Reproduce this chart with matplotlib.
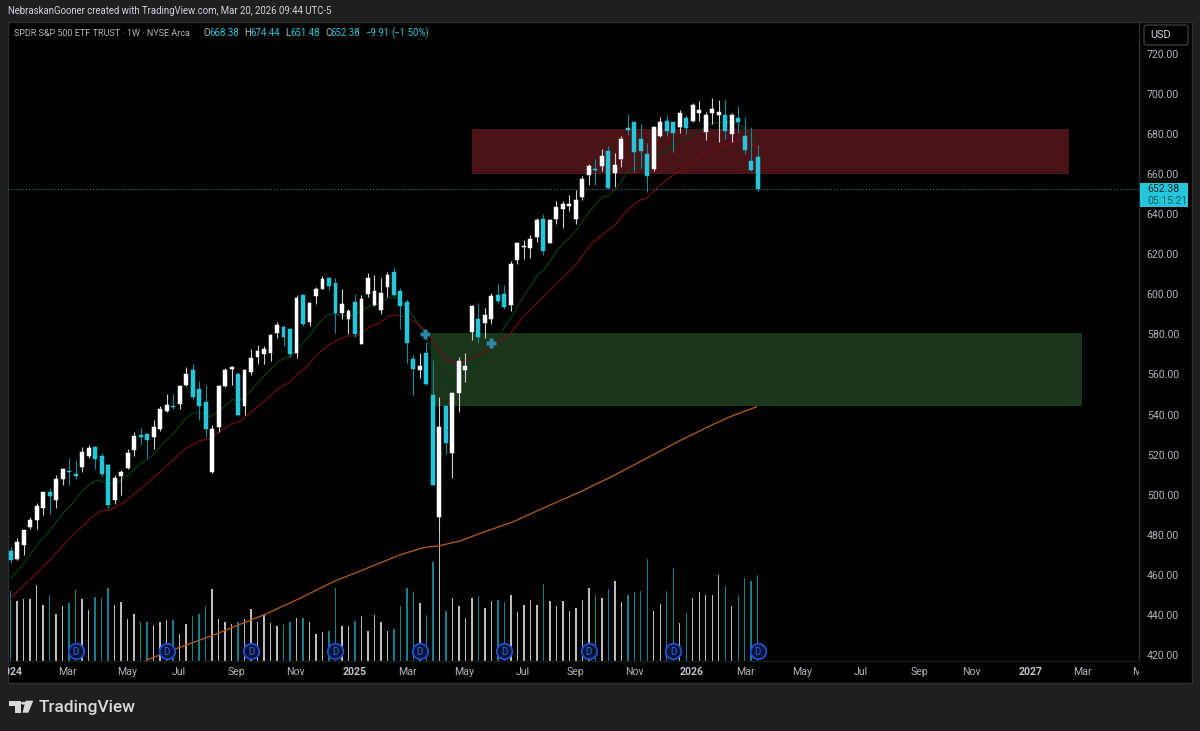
import matplotlib
matplotlib.use("Agg")
import matplotlib.pyplot as plt
from matplotlib.patches import Rectangle, FancyBboxPatch, Polygon, Circle
from matplotlib.transforms import Bbox, TransformedBbox, IdentityTransform, blended_transform_factory

plt.rcParams['font.family'] = ['Roboto', 'DejaVu Sans']

# ---------- weekly OHLC ----------
opens = [472.1,468.0,475.0,483.8,487.4,493.4,501.2,497.4,508.0,512.0,510.4,513.7,519.5,523.8,519.2,515.0,497.2,509.4,513.2,522.3,
         529.7,530.3,528.7,532.6,542.0,544.4,545.3,554.9,562.1,552.9,546.1,511.2,534.0,554.3,562.9,560.4,544.3,561.2,568.9,570.2,
         570.9,580.9,583.9,582.7,570.9,599.8,586.0,599.3,602.8,608.0,605.8,590.5,587.7,596.3,575.4,600.3,594.5,592.3,603.6,611.0,
         601.8,596.3,567.7,562.4,570.7,549.8,488.9,544.3,520.8,550.9,562.2,581.2,587.8,585.7,587.5,599.8,600.2,594.8,617.1,623.4,
         623.3,628.6,637.6,625.6,637.6,642.5,643.9,637.4,648.5,659.3,662.5,664.0,671.5,660.5,667.3,682.8,685.8,677.5,670.0,662.5,
         678.8,686.6,685.8,683.6,687.9,686.3,690.3,681.1,690.3,689.4,689.4,680.0,687.9,678.8,666.5,668.38]
highs = [473.8,478.3,482.4,488.8,496.1,501.6,503.6,509.9,513.2,518.2,517.4,523.8,524.7,524.3,520.7,515.2,509.9,512.4,522.7,531.3,
         533.1,530.6,537.1,544.3,550.1,550.3,554.8,563.7,565.2,556.6,554.9,534.6,554.9,563.1,564.1,560.6,562.7,572.9,574.7,574.2,
         580.4,586.0,584.5,583.2,599.5,600.1,596.2,603.5,609.0,608.5,608.0,602.6,592.5,600.0,599.5,610.6,609.8,608.1,611.0,613.4,
         603.0,597.5,569.7,570.7,576.2,567.2,548.6,544.3,550.9,568.6,570.5,594.5,595.5,593.0,600.5,605.0,604.5,616.4,626.1,626.9,
         629.4,637.9,639.9,637.6,646.4,646.5,649.5,652.2,659.2,665.2,667.5,672.6,674.0,670.3,678.8,689.9,685.8,685.1,675.5,683.9,
         688.6,689.4,685.9,691.9,689.4,695.3,696.4,691.1,697.7,697.1,697.4,690.3,693.9,688.6,683.4,674.44]
lows = [466.1,467.5,469.8,482.8,483.1,490.1,490.4,493.6,504.9,504.9,508.0,511.2,518.5,512.7,509.0,493.2,495.2,499.7,512.9,519.5,
        524.8,518.5,522.8,532.0,541.5,542.8,542.6,554.3,548.0,537.3,528.8,510.7,531.2,553.9,554.9,539.5,539.8,559.7,565.4,565.4,
        566.6,578.4,574.4,568.7,568.1,584.0,584.0,595.2,602.5,602.3,580.7,587.7,580.4,578.5,575.4,598.8,594.2,590.3,598.8,599.3,
        582.5,565.7,549.9,558.3,554.9,504.9,481.8,520.3,508.4,541.5,556.3,577.2,575.7,578.2,585.2,595.5,592.7,591.8,615.1,617.8,
        618.3,626.1,619.4,625.4,635.1,633.1,641.7,635.1,647.2,654.5,654.5,661.5,652.7,653.5,663.5,679.5,661.2,663.2,651.2,661.5,
        678.5,679.1,671.2,680.6,680.0,686.1,686.3,676.8,684.9,676.0,677.5,675.8,680.3,670.0,661.5,651.48]
closes = [467.5,476.4,482.4,487.3,494.4,501.2,499.2,507.9,512.7,511.4,509.4,521.2,523.2,517.8,510.4,494.7,508.4,511.4,520.7,529.3,
          529.0,527.2,533.8,542.8,544.6,543.8,554.4,560.1,548.8,544.3,532.8,533.0,554.1,562.1,563.6,539.8,562.1,568.1,571.5,572.7,
          579.7,584.7,578.9,570.4,598.3,585.2,595.5,602.6,607.8,604.0,590.8,595.2,591.8,580.2,597.5,608.0,601.8,600.6,609.8,599.6,
          594.0,575.9,562.6,564.1,555.3,504.9,533.8,526.0,550.6,566.7,564.4,594.2,578.7,589.5,599.2,596.7,593.8,615.1,625.4,624.1,
          627.8,637.2,621.4,637.2,643.5,645.2,645.2,647.2,657.7,663.8,662.0,669.1,653.0,664.3,677.5,681.9,670.8,671.5,658.8,683.4,
          685.9,681.4,680.5,690.4,682.9,694.3,691.9,689.4,692.4,690.8,681.4,689.4,685.9,672.0,661.8,652.38]
volumes = [209,179,186,186,227,167,196,141,165,174,212,186,153,191,188,217,167,177,124,139,
           115,115,107,115,122,122,81,110,133,140,163,215,126,117,110,117,126,155,115,136,
           112,103,107,115,127,127,117,81,86,89,218,103,105,119,134,89,136,115,89,95,
           165,217,206,172,138,296,392,150,188,163,128,188,194,157,179,182,175,198,146,167,
           181,167,230,179,163,179,150,157,181,217,196,189,214,238,177,196,206,208,306,148,
           170,208,277,113,143,189,206,198,196,258,224,165,196,249,238,258]

# ---------- moving averages (week index, price) ----------
fast_x = [0,1.2,3,4.5,6.1,7.9,9.8,10.9,12.5,13.5,14.5,16.1,18.1,19.9,21.5,23.5,25.1,26.9,28.1,29.2,30.7,32.3,34.1,35.1,
          36.8,38.9,40.9,42,43,44.5,46.1,47.6,48.9,49.9,50.9,52,52.7,54.3,55.3,56.3,57.9,59.2,59.9,61.5,63,63.9,65.1,66.6,67.9,
          69.2,70.2,71.2,72.3,75.6,77.4,79.4,81,82,84.6,86.9,88.9,91,92,93.3,94.9,96.1,97.4,99.5,100.5,102,103.1,104.1,106.2,
          108.2,109.8,111.8,113.3,114.9]
fast_y = [458.4,462.5,470,476.6,482.4,490.4,496.6,501.6,506,507.4,506,505.4,509.9,515.4,518.5,525.7,530.6,538.1,540.6,541,539,542.3,547.6,546.6,
          551.4,558.9,565.6,568.1,568.6,573.9,579.7,586.3,590,590,589.7,589.2,589.7,592.2,594.2,594.7,598,598.5,597.2,591.3,583.9,579.7,568.9,556.4,555.3,
          557.2,561.4,564.7,568.1,581.4,590.5,601.3,609.1,611.8,623.8,631.2,640.4,648.4,649,652.9,660.7,662.8,663.3,668.7,671.1,673.6,676.6,677.8,682,
          685.3,685.8,685.3,682,675.3]
slow_x = [0,4.5,6.6,8.6,10.7,12.7,14,15.3,17.4,20.4,24,26.9,29.2,30.7,32.5,34.1,35.3,36.8,38.9,41.2,42.8,44,45.6,47.1,48.9,50.7,52,53.3,55.3,56.9,58.1,59.4,
          61,63,64.3,65.6,67.1,68.2,69.7,71.2,72.3,74.3,76.9,78.9,81,83.6,87.2,89.2,91,93.1,94.9,96.9,97.9,100,102,104.1,106.2,108.7,110.3,111.8,112.8,113.9,114.9]
slow_y = [448.5,462.5,469.5,476.6,483.3,489.4,492.1,492.4,496.1,504,514.3,523.2,527,528.2,532.3,535.6,536.6,540.6,546.4,553.1,555.9,559.7,563.9,569.7,574.7,577.7,579.2,579.2,583.9,585.8,588.8,589.7,
          588.5,584.7,579.7,573.9,567.7,566.2,566.1,568.6,569.7,574.7,580.5,588.8,595.5,603.8,615.4,624.6,629.6,634.6,642,647,647.9,654.5,659.5,664.5,669,673.6,675,676.6,676.6,675.3,673.6]
long_x = [20.7,25.6,31.2,35.3,38.9,44.5,49.7,54.8,59.9,63.5,66,69.2,72.3,77.4,82.5,87.7,92.8,97.9,103,108.2,110.8,114.9]
long_y = [417.3,423.4,430,435.4,440,448.3,456.7,463.3,470,473.6,474.6,477,480.8,486.6,494.1,501.5,509.5,518.2,527,535.2,539,544]

# ---------- zones and marks ----------
supply_zone = (71.0, 163.0, 660.0, 682.4)
demand_zone = (64.7, 164.9, 544.3, 580.7)
plus_x = [63.8, 73.9]
plus_y = [580.0, 575.5]
dividend_x = [10, 24, 37, 50, 63, 76, 89, 102, 115]
last_price = 652.38
price_ticks = [720,700,680,660,640,620,600,580,560,540,520,500,480,460,440,420]
date_labels = ["2024","Mar","May","Jul","Sep","Nov","2025","Mar","May","Jul","Sep","Nov","2026","Mar","May","Jul","Sep","Nov","2027","Mar","May"]
date_pos = [0,8.8,17.9,25.9,34.8,43.8,53,61,69.8,78.9,87,96,104.9,113.1,121.8,130.8,139.9,147.9,157,165,174.2]

UP = "#ffffff"; DOWN = "#26c6da"; UP_WICK = "#d0d0d0"; DOWN_WICK = "#158a9b"
BG = "#1f1f1f"; TXT = "#b2b5be"; LINE = "#2e2e2e"

W, H = 1200, 731
fig = plt.figure(figsize=(W/100, H/100), dpi=100, facecolor=BG)
def fx(x): return x/W
def fy(y): return 1-y/H
def rect(x0, y0, x1, y1, **kw):
    fig.add_artist(Rectangle((fx(x0), fy(y1)), (x1-x0)/W, (y1-y0)/H, transform=fig.transFigure, **kw))
def ftext(x, y, s, **kw):
    kw.setdefault('va', 'center')
    fig.text(fx(x), fy(y), s, **kw)

rect(8, 22, 1192, 683, fc="#000000", ec=LINE, lw=1, zorder=-5)

pos = [fx(8), fy(660.6), (1139-8)/W, (660.6-22)/H]
ax_v = fig.add_axes(pos, zorder=1)
ax = fig.add_axes(pos, zorder=2, sharex=ax_v)
ax.patch.set_visible(False)
ax_v.set_facecolor("none")
ax_v.axis("off")
ax.set_xlim(-0.416, 173.7)
ax.set_ylim(417.3, 735.8)
ax_v.set_ylim(0, 1916)

for s in ("left", "top"):
    ax.spines[s].set_visible(False)
ax.spines["right"].set_color(LINE); ax.spines["right"].set_linewidth(1)
ax.spines["bottom"].set_color("#1c1c1c"); ax.spines["bottom"].set_linewidth(1)
ax.yaxis.tick_right()
ax.set_yticks(price_ticks)
ax.set_yticklabels([f"{p:.2f}" for p in price_ticks], fontsize=7.6, color=TXT)
ax.tick_params(axis='y', length=0, pad=5.6)
ax.tick_params(axis='x', length=0, labelbottom=False)

# zones
ax.add_patch(Rectangle((supply_zone[0], supply_zone[2]), supply_zone[1]-supply_zone[0], supply_zone[3]-supply_zone[2],
                       fc="#4a1318", ec="none", zorder=1))
ax.add_patch(Rectangle((demand_zone[0], demand_zone[2]), demand_zone[1]-demand_zone[0], demand_zone[3]-demand_zone[2],
                       fc="#1a3519", ec="none", zorder=1))

# volume
xs = list(range(len(closes)))
vcol = ["#bcbcbc" if c >= o else "#14808f" for o, c in zip(opens, closes)]
ax_v.bar(xs, volumes, width=0.22, color=vcol, linewidth=0)

# averages
ax.plot(long_x, long_y, color="#b05c18", lw=0.95, zorder=2, solid_capstyle="butt")
ax.plot(fast_x, fast_y, color="#0c3f13", lw=0.85, zorder=2)
ax.plot(slow_x, slow_y, color="#6e0e13", lw=0.9, zorder=2)

# candles
for i, (o, h, l, c) in enumerate(zip(opens, highs, lows, closes)):
    up = c >= o
    ax.vlines(i, l, h, color=UP_WICK if up else DOWN_WICK, lw=0.8, zorder=3)
    ax.bar(i, abs(c-o), bottom=min(o, c), width=0.6, color=UP if up else DOWN,
           edgecolor=UP if up else DOWN, linewidth=0.35, zorder=4)

ax.axhline(last_price, color="#3d8f9c", lw=0.7, ls=(0, (1, 2)), zorder=3)
ax.plot(plus_x, plus_y, ls="none", marker="P", ms=7.2, mfc="#2f86a6", mec="none", zorder=5)

# dividends
btr = blended_transform_factory(ax.transData, ax.transAxes)
for d in dividend_x:
    ax.scatter([d], [0.0157], s=125, transform=btr, facecolor="#0b1530", edgecolor="#1d4fd7", lw=1.3, zorder=6, clip_on=False)
    ax.text(d, 0.0157, "D", transform=btr, ha="center", va="center_baseline", fontsize=7, color="#2962ff", zorder=7)

# date labels, clipped to the panel
clip = TransformedBbox(Bbox([[8, 0], [1139, H]]), IdentityTransform())
for p, s in zip(date_pos, date_labels):
    bold = s.isdigit()
    t = ax.text(p, -11.5/638.6, s, transform=btr, fontsize=7.6,
                color="#c0c3ca" if bold else TXT, fontweight="bold" if bold else "normal", ha="center", va="center")
    t.set_clip_on(True)
    t.set_clip_box(clip)

# right scale furniture
fig.add_artist(FancyBboxPatch((fx(1144), fy(45)), 44/W, 20/H, boxstyle="round,pad=0,rounding_size=0.003",
                              transform=fig.transFigure, fc="#000000", ec="#3a3a3a", lw=1, zorder=5))
ftext(1150, 35.5, "USD", fontsize=7.8, color="#d1d4dc", zorder=6)
rect(1140, 183, 1188, 207, fc=DOWN, ec="none", zorder=5)
ftext(1147, 189.5, "652.38", fontsize=7.6, color="#0a2a30", zorder=6)
ftext(1147, 200.5, "05:15:21", fontsize=7.6, color="#12606e", zorder=6)

# header
ftext(8, 11.5, "NebraskanGooner created with TradingView.com, Mar 20, 2026 09:44 UTC-5", fontsize=6.95, color="#d1d4dc")
ftext(14, 33.5, "SPDR S&P 500 ETF TRUST · 1W · NYSE Arca", fontsize=6.5, color=TXT)
CY = "#26c6da"
for x, s, c in [(203, "O", TXT), (209, "668.38", CY), (244, "H", TXT), (250, "674.44", CY), (285, "L", TXT), (290, "651.48", CY),
                (325, "C", TXT), (330, "652.38", CY), (365, "−9.91", CY), (391, "(−1.50%)", CY)]:
    ftext(x, 33.5, s, fontsize=6.9, color=c)

# TradingView mark
LOGO = "#d9d9d9"
fig.add_artist(Polygon([(fx(9.3), fy(700.7)), (fx(20.7), fy(700.7)), (fx(20.7), fy(712.7)), (fx(15), fy(712.7)), (fx(15), fy(705.7)), (fx(9.3), fy(705.7))],
                       transform=fig.transFigure, fc=LOGO, ec="none"))
fig.add_artist(Polygon([(fx(25.5), fy(700.7)), (fx(33.3), fy(700.7)), (fx(28.3), fy(712.7)), (fx(22.5), fy(712.7))],
                       transform=fig.transFigure, fc=LOGO, ec="none"))
fig.add_artist(Circle((fx(23.3), fy(703.2)), 2.3/W, transform=fig.transFigure, fc=LOGO, ec="none"))
ftext(39, 707.5, "TradingView", fontsize=12.4, fontweight="medium", color=LOGO)

fig.savefig("out.png", dpi=100, facecolor=BG)
